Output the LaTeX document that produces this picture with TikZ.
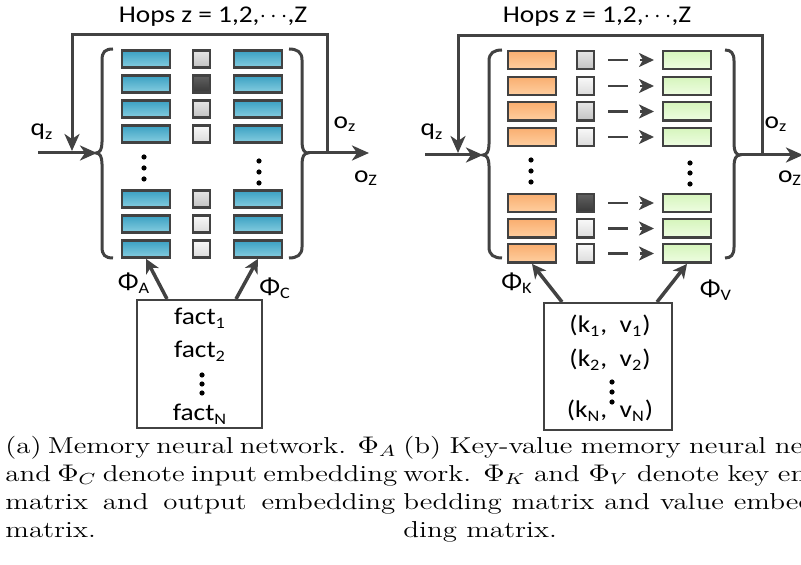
\documentclass[tikz,border=0pt]{standalone}
\usepackage{fontspec}
\usepackage{graphicx}
\usetikzlibrary{arrows.meta,calc}
\newfontfamily\diagfont[FakeStretch=1.14]{Carlito}
\definecolor{lc}{HTML}{424242}
\definecolor{bluetop}{HTML}{3AA0C2}
\definecolor{bluebot}{HTML}{86CDE0}
\definecolor{orgtop}{HTML}{F9AE70}
\definecolor{orgbot}{HTML}{FFCFA0}
\definecolor{grntop}{HTML}{D6F5BC}
\definecolor{grnbot}{HTML}{EEFDE2}
\newlength\capw
\newcommand\capline[1]{\makebox[\capw][s]{#1}}
\begin{document}
\begin{tikzpicture}[x=0.5pt,y=-0.5pt,
  font=\diagfont\fontsize{12}{14}\selectfont,
  ln/.style={draw=lc, line width=1.5pt},
  arr/.style={ln, -{Stealth[length=8.5pt,width=7.5pt,inset=2.5pt]}},
  phiarr/.style={draw=lc, line width=1.75pt, -{Stealth[length=7pt,width=7pt,inset=2pt]}},
  kvarr/.style={draw=lc, line width=1.2pt, dash pattern=on 10pt off 6pt,
    shorten <=6.5pt, shorten >=4pt, -{Stealth[length=7.5pt,width=7pt,inset=2pt]}},
  cell/.style={draw=lc, line width=1.2pt, inner sep=0pt, minimum width=23.8pt},
  bcell/.style={cell, minimum height=8.6pt, top color=bluetop, bottom color=bluebot},
  ocell/.style={cell, minimum height=9.2pt, top color=orgtop, bottom color=orgbot},
  gcell/.style={cell, minimum height=9.2pt, top color=grntop, bottom color=grnbot},
  sq/.style={draw=lc, line width=1.2pt, inner sep=0pt, minimum width=8.3pt},
  sqm/.style={sq, top color=gray!20, bottom color=gray!48},
  sql/.style={sq, top color=gray!5, bottom color=gray!28},
  sqd/.style={sq, top color=black!62, bottom color=black!78},
  box/.style={draw=lc, line width=1.2pt, inner sep=0pt},
  dt/.style={fill=black},
  captext/.style={anchor=base west, inner sep=0pt, font=\rmfamily}
]
\useasboundingbox (0,0) rectangle (801,565);

% ---------------- panel (a) ----------------
\node[anchor=base] (titlea) at (213,23) {Hops z = 1,2,$\cdots$,Z};
\foreach \i/\y/\s in {1/59/sqm,2/84/sqd,3/109/sqm,4/134/sql,5/199/sqm,6/224/sql,7/249/sql}{
  \node[bcell] (a\i) at (146,\y) {};
  \node[\s, minimum height=8.6pt] (s\i) at (201.5,\y) {};
  \node[bcell] (c\i) at (258,\y) {};
}
\foreach \y in {157,168,179}{\fill[dt] (144,\y) circle[radius=1.3pt];}
\foreach \y in {161,172,183}{\fill[dt] (259,\y) circle[radius=1.3pt];}

\draw[ln] (113,49) .. controls (105,49) and (102,52) .. (102,60)
  -- (102,142) .. controls (102,149) and (100,153) .. (96,153)
  .. controls (100,153) and (102,157) .. (102,164)
  -- (102,247) .. controls (102,255) and (105,258) .. (113,258);
\draw[ln] (289,49) .. controls (297,49) and (302,52) .. (302,60)
  -- (302,142) .. controls (302,149) and (304,153) .. (308,153)
  .. controls (304,153) and (302,157) .. (302,164)
  -- (302,247) .. controls (302,255) and (297,258) .. (289,258);

\coordinate (ina) at (38,153);
\coordinate (tipaL) at (97,153);
\coordinate (tipaR) at (308,153);
\coordinate (outa) at (369,153);
\coordinate (loopaR) at (327,153);
\coordinate (loopaL) at (72,151);
\draw[arr] (ina) -- (tipaL);
\draw[arr] (tipaR) -- (outa);
\draw[arr] (loopaR) -- (327,35) -| (loopaL);

\node (qa) at (42,132) {q\textsubscript{z}};
\node (oza) at (345,124) {o\textsubscript{z}};
\node (oZa) at (366,178) {o\textsubscript{Z}};

\node[box, minimum width=62.3pt, minimum height=63.8pt] (facts) at (199.5,364) {};
\node[anchor=base] (f1) at (200,325) {fact\textsubscript{1}};
\node[anchor=base] (f2) at (200,358) {fact\textsubscript{2}};
\node[anchor=base] (fN) at (200,421) {fact\textsubscript{N}};
\foreach \y in {375,384,393}{\fill[dt] (202,\y) circle[radius=1.3pt];}

\draw[phiarr] ($(facts.north west)+(31,0)$) -- (a7.south);
\draw[phiarr] ($(facts.north east)+(-27,0)$) -- (c7.south);
\node (phiA) at (134,283) {Φ\textsubscript{A}};
\node (phiC) at (275,288) {Φ\textsubscript{C}};

% ---------------- panel (b) ----------------
\node[anchor=base] (titleb) at (597,23) {Hops z = 1,2,$\cdots$,Z};
\foreach \i/\y/\s in {1/60/sqm,2/86/sql,3/111.5/sqm,4/137/sql,5/203/sqd,6/228.5/sql,7/253.5/sql}{
  \node[ocell] (k\i) at (532,\y) {};
  \node[\s, minimum height=9.2pt] (t\i) at (585.5,\y) {};
  \node[gcell] (v\i) at (687,\y) {};
  \draw[kvarr] (t\i) -- (v\i);
}
\foreach \y in {160,171,182}{\fill[dt] (531,\y) circle[radius=1.3pt];}
\foreach \y in {163,173,184}{\fill[dt] (690,\y) circle[radius=1.3pt];}

\draw[ln] (502,50) .. controls (494,50) and (489,53) .. (489,61)
  -- (489,144) .. controls (489,151) and (487,155) .. (483,155)
  .. controls (487,155) and (489,159) .. (489,166)
  -- (489,247) .. controls (489,255) and (494,258) .. (502,258);
\draw[ln] (725,50) .. controls (731,50) and (734,53) .. (734,61)
  -- (734,144) .. controls (734,151) and (736,155) .. (740,155)
  .. controls (736,155) and (734,159) .. (734,166)
  -- (734,247) .. controls (734,255) and (731,258) .. (725,258);

\coordinate (inb) at (425,155);
\coordinate (tipbL) at (483,155);
\coordinate (tipbR) at (740,155);
\coordinate (outb) at (803,155);
\coordinate (loopbR) at (762,155);
\coordinate (loopbL) at (458,153);
\draw[arr] (inb) -- (tipbL);
\draw[arr] (tipbR) -- (outb);
\draw[arr] (loopbR) -- (762,36) -| (loopbL);

\node (qb) at (432,132) {q\textsubscript{z}};
\node (ozb) at (776,124) {o\textsubscript{z}};
\node (oZb) at (790,178) {o\textsubscript{Z}};

\node[box, minimum width=63.8pt, minimum height=63.3pt] (kv) at (608,366.5) {};
\node[anchor=base] (kv1) at (610,333) {(k\textsubscript{1},\ \ v\textsubscript{1})};
\node[anchor=base] (kv2) at (610,367) {(k\textsubscript{2},\ \ v\textsubscript{2})};
\node[anchor=base] (kvN) at (610,418) {(k\textsubscript{N},\ \ v\textsubscript{N})};
\foreach \y in {382,392,402}{\fill[dt] (612,\y) circle[radius=1.3pt];}

\draw[phiarr] ($(kv.north west)+(19,0)$) -- (k7.south);
\draw[phiarr] ($(kv.north east)+(-16,0)$) -- (v7.south);
\node (phiK) at (517,283) {Φ\textsubscript{K}};
\node (phiV) at (716,290) {Φ\textsubscript{V}};

% ---------------- captions ----------------
\setlength\capw{155pt}
\node[captext] (capa) at (5,453)
  {\scalebox{1.258}[1]{\parbox[t]{\capw}{\fontsize{11.5}{14}\selectfont
   \capline{(a) Memory neural network. $\Phi_A$}\\
   \capline{and $\Phi_C$ denote input embedding}\\
   \capline{matrix and output embedding}\\
   matrix.}}};
\setlength\capw{167pt}
\node[captext] (capb) at (403,453)
  {\scalebox{1.258}[1]{\parbox[t]{\capw}{\fontsize{11.5}{14}\selectfont
   \capline{(b) Key-value memory neural net-}\\
   \capline{work. $\Phi_K$ and $\Phi_V$ denote key em-}\\
   \capline{bedding matrix and value embed-}\\
   ding matrix.}}};
\end{tikzpicture}
\end{document}
